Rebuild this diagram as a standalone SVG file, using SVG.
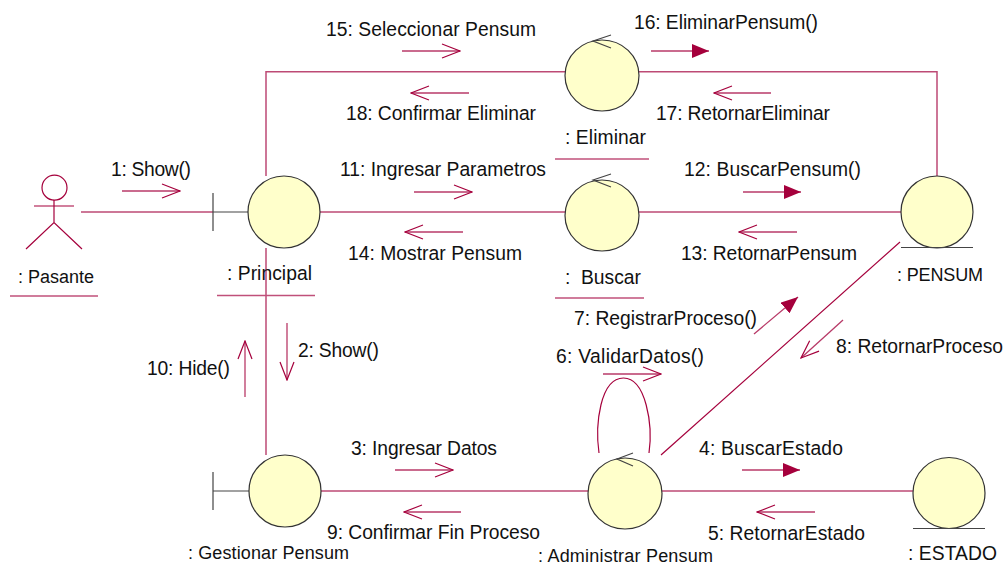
<svg xmlns="http://www.w3.org/2000/svg" width="1005" height="570" viewBox="0 0 1005 570">
<defs>
<marker id="open" viewBox="0 0 20 16" refX="19" refY="8" markerWidth="20" markerHeight="16" markerUnits="userSpaceOnUse" orient="auto"><path d="M1 1L19 8L1 15" fill="none" stroke="#a5003c" stroke-width="1.2"/></marker>
<marker id="solid" viewBox="0 0 18 14" refX="17" refY="7" markerWidth="18" markerHeight="14" markerUnits="userSpaceOnUse" orient="auto"><path d="M0 0L17 7L0 14Z" fill="#a5003c"/></marker>
</defs>
<style>
text{font-family:"Liberation Sans",Arial,sans-serif;font-size:19.3px;fill:#111}
.s{font-size:18px}
.c{fill:none;stroke:#bd4a75;stroke-width:1.5}
.c1{fill:none;stroke:#a5003c;stroke-width:1.2}
.u{fill:none;stroke:#c0507a;stroke-width:1.5}
.m{fill:none;stroke:#b83a68;stroke-width:1.3}
.o{fill:#ffffcb;stroke:#333;stroke-width:1.2}
.g{fill:none;stroke:#444;stroke-width:1.2}
.a{marker-end:url(#open)}
.b{marker-end:url(#solid)}
</style>
<g id="connectors">
<path class="c" d="M81 212H213"/>
<path class="c" d="M266 176V71.700H565"/>
<path class="c" d="M639 71.700H937V176"/>
<path class="c" d="M320 212H565"/>
<path class="c" d="M639 212H901"/>
<path class="c" d="M266 248V455"/>
<path class="c" d="M321 491H588"/>
<path class="c" d="M662 491H913"/>
<path class="c1" d="M661 455L900 242"/>
<path class="c1" d="M599 453C595 425 600 378 623.500 378C646 378 653 425 649 453"/>
</g>
<g id="messages">
<path class="m a" d="M122 191H180"/>
<path class="m a" d="M402 51H460"/>
<path class="m a" d="M469 93H411"/>
<path class="m b" d="M651 51H709"/>
<path class="m a" d="M771 93H714"/>
<path class="m a" d="M414 192H472"/>
<path class="m a" d="M463 232H405"/>
<path class="m b" d="M743 192H801"/>
<path class="m a" d="M797 232H739"/>
<path class="m b" d="M754 334L798 297"/>
<path class="m a" d="M843 320L801 358"/>
<path class="m a" d="M603 374H661"/>
<path class="m a" d="M245 397V341"/>
<path class="m a" d="M287 323V380"/>
<path class="m a" d="M395 470H453"/>
<path class="m a" d="M461 512H404"/>
<path class="m b" d="M742 470H800"/>
<path class="m a" d="M815 512H757"/>
</g>
<g id="pasante">
<circle cx="54.500" cy="187.700" r="12.500" fill="#fff" stroke="#a5003c" stroke-width="1.200"/>
<path class="c1" d="M34 206H74M54 200V222.500M26 249L54 222.500L82 249"/>
<text class="s" x="18" y="283" textLength="76">: Pasante</text>
<path class="u" d="M10 296H98"/>
</g>
<g id="principal">
<path class="g" d="M213 193V231M213 212H248"/>
<circle class="o" cx="284" cy="212" r="36"/>
<text x="227" y="280" textLength="85">: Principal</text>
<path class="u" d="M217 295.500H315"/>
</g>
<g id="eliminar">
<ellipse class="o" cx="602" cy="75.500" rx="37" ry="35.500"/>
<path class="g" d="M611 35L593 41L611 48"/>
<text x="565" y="144" textLength="81">: Eliminar</text>
<path class="u" d="M555 159H649"/>
</g>
<g id="buscar">
<ellipse class="o" cx="602" cy="215.500" rx="37" ry="35.500"/>
<path class="g" d="M611 174L593 180L611 187"/>
<text x="565" y="284">: <tspan x="581">Buscar</tspan></text>
<path class="u" d="M555 298H644"/>
</g>
<g id="pensum">
<circle class="o" cx="937" cy="212" r="36"/>
<path class="g" d="M901 247.500H973"/>
<text class="s" x="897" y="281" textLength="86">: PENSUM</text>
</g>
<g id="gestionar">
<path class="g" d="M213 472V510M213 491H249"/>
<circle class="o" cx="285" cy="491" r="36"/>
<text class="s" x="188" y="559" textLength="161">: Gestionar Pensum</text>
</g>
<g id="administrar">
<ellipse class="o" cx="625" cy="493.500" rx="37" ry="35.500"/>
<path class="g" d="M633 453L617 459L633 466"/>
<text class="s" x="538" y="562" textLength="175">: Administrar Pensum</text>
</g>
<g id="estado">
<ellipse class="o" cx="949" cy="493" rx="36" ry="35.500"/>
<path class="g" d="M913 528.500H985"/>
<text x="908" y="560" textLength="89">: ESTADO</text>
</g>
<g id="labels">
<text x="111" y="176" textLength="80">1: Show()</text>
<text x="326" y="36" textLength="210">15: Seleccionar Pensum</text>
<text x="346" y="120" textLength="190">18: Confirmar Eliminar</text>
<text x="634" y="29" textLength="184">16: EliminarPensum()</text>
<text x="656" y="120" textLength="174">17: RetornarEliminar</text>
<text x="340" y="176" textLength="206">11: Ingresar Parametros</text>
<text x="348" y="260" textLength="174">14: Mostrar Pensum</text>
<text x="684" y="176" textLength="177">12: BuscarPensum()</text>
<text x="681" y="260" textLength="176">13: RetornarPensum</text>
<text x="574" y="325" textLength="183">7: RegistrarProceso()</text>
<text x="836" y="353" textLength="167">8: RetornarProceso</text>
<text x="556" y="363" textLength="148">6: ValidarDatos()</text>
<text x="147" y="375" textLength="83">10: Hide()</text>
<text x="298" y="357" textLength="81">2: Show()</text>
<text x="351" y="455" textLength="146">3: Ingresar Datos</text>
<text x="327" y="539" textLength="213">9: Confirmar Fin Proceso</text>
<text x="699" y="455" textLength="144">4: BuscarEstado</text>
<text x="708" y="540" textLength="157">5: RetornarEstado</text>
</g>
</svg>
